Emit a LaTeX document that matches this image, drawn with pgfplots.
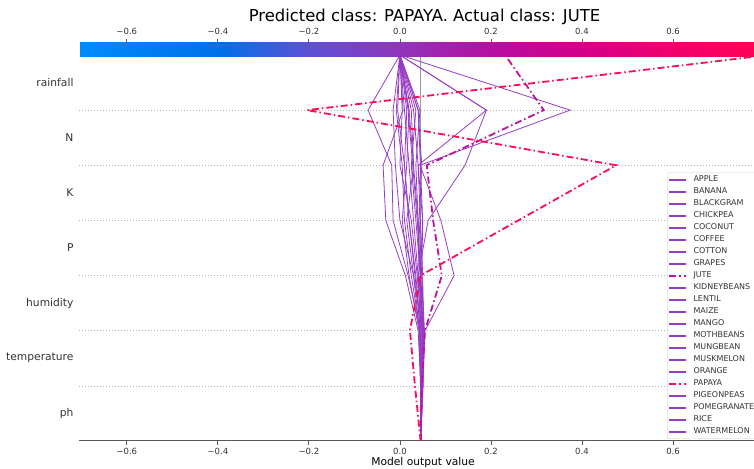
\documentclass[border=0pt]{standalone}
\usepackage{fontspec}
\setmainfont{DejaVu Sans}
\usepackage{pgfplots}
\usepackage{pgfplotstable}
\pgfplotsset{compat=1.18}
\definecolor{purp}{RGB}{150,60,195}
\definecolor{jute}{RGB}{192,16,158}
\definecolor{papaya}{RGB}{255,10,85}
\definecolor{txt}{RGB}{51,51,51}

\pgfplotstableread{
k APPLE BANANA BLACKGRAM CHICKPEA COCONUT COFFEE COTTON GRAPES JUTE KIDNEYBEANS LENTIL MAIZE MANGO MOTHBEANS MUNGBEAN MUSKMELON ORANGE PAPAYA PIGEONPEAS POMEGRANATE RICE WATERMELON
0 0.0455 0.0455 0.0455 0.0455 0.0455 0.0455 0.0455 0.0455 0.0455 0.0455 0.0455 0.0455 0.0455 0.0455 0.0455 0.0455 0.0455 0.0455 0.0455 0.0455 0.0455 0.0455
1 0.048 0.050 0.046 0.047 0.049 0.048 0.050 0.047 0.048 0.049 0.046 0.050 0.045 0.048 0.051 0.047 0.048 0.033 0.046 0.050 0.047 0.049
2 0.045 0.050 0.040 0.045 0.052 0.050 0.055 0.046 0.055 0.050 0.044 0.052 0.042 0.048 0.054 0.047 0.049 0.022 0.043 0.052 0.045 0.051
3 0.035 0.045 0.012 0.018 0.040 0.045 0.119 0.040 0.092 0.030 0.025 0.050 0.020 0.045 0.048 0.038 0.042 0.045 0.030 0.048 0.033 0.046
4 0.020 0.040 -0.031 -0.015 0.062 0.050 0.090 0.030 0.073 0.000 0.010 0.045 0.005 0.035 0.050 0.025 0.040 0.260 0.015 0.042 0.020 0.038
5 0.010 0.030 -0.037 -0.018 0.143 0.040 0.044 0.020 0.059 -0.010 0.005 0.040 0.015 0.025 0.045 0.000 0.035 0.475 0.030 0.048 0.010 0.028
6 -0.005 0.020 0.007 -0.070 0.190 0.190 0.374 0.010 0.316 -0.015 -0.008 0.030 0.020 0.035 0.040 0.005 0.044 -0.204 0.025 0.040 0.015 0.018
7 0.0 0.0 0.0 0.0 0.0 0.0 0.0 0.0 0.231 0.0 0.0 0.0 0.0 0.0 0.0 0.0 0.0 0.810 0.0 0.0 0.0 0.0
}\shapdata

\begin{document}
\begin{tikzpicture}
\begin{axis}[
  at={(79pt,27pt)}, anchor=south west,
  scale only axis, width=691pt, height=386pt,
  xmin=-0.705, xmax=0.813, ymin=0, ymax=7,
  axis x line*=bottom, axis y line*=left,
  y axis line style={draw=none},
  x axis line style={draw=black!65, line width=1pt},
  xtick={-0.6,-0.4,-0.2,0,0.2,0.4,0.6},
  xticklabels={−0.6,−0.4,−0.2,0.0,0.2,0.4,0.6},
  xtick style={draw=black!65, line width=0.8pt},
  tick align=outside, major tick length=4pt,
  xticklabel style={font=\fontsize{8.5}{10}\selectfont, text=txt},
  ytick={0.5,1.5,2.5,3.5,4.5,5.5,6.5},
  yticklabels={ph,temperature,humidity,P,K,N,rainfall},
  ytick style={draw=none},
  yticklabel style={font=\fontsize{10.7}{12}\selectfont, text=txt, xshift=2pt},
  extra y ticks={1,2,3,4,5,6},
  extra y tick labels={},
  extra y tick style={grid=major, major grid style={dash pattern=on 1pt off 2pt, draw=black!30, line width=0.5pt}, ytick style={draw=none}},
  colormap={shapcm}{rgb255(0pt)=(0,139,251) rgb255(31pt)=(0,112,232) rgb255(51pt)=(95,80,212) rgb255(71pt)=(145,52,186) rgb255(91pt)=(182,14,160) rgb255(111pt)=(212,0,138) rgb255(131pt)=(240,0,108) rgb255(152pt)=(255,0,82)},
  colorbar horizontal,
  point meta min=-0.705, point meta max=0.813,
  colorbar style={
    at={(parent axis.north west)}, anchor=south west, yshift=7pt,
    scale only axis, width=691pt, height=14pt,
    xtick={-0.6,-0.4,-0.2,0,0.2,0.4,0.6},
    xticklabels={−0.6,−0.4,−0.2,0.0,0.2,0.4,0.6},
    xtick pos=right, xticklabel pos=right,
    axis line style={draw=none},
    xtick style={draw=black!65, line width=0.8pt},
    tick align=outside, major tick length=4pt,
    xticklabel style={font=\fontsize{8.5}{10}\selectfont, text=txt},
  },
  legend cell align=left,
  legend image code/.code={\draw[#1] (0pt,0pt) -- (17pt,0pt); \path (21.5pt,0pt);},
  legend style={at={(0.8514,0.6961)}, anchor=north west, draw=black!20, rounded corners=2pt, fill=white,
    font=\fontsize{8}{9}\selectfont, text=txt, inner xsep=0.7pt, inner ysep=1.1pt, row sep=0pt,
    nodes={inner ysep=2pt, inner xsep=2pt, text height=5.8pt, text depth=2.2pt}},
]
\addplot[forget plot, color=black!40, line width=1.3pt] coordinates {(0.0455,0) (0.0455,7)};
\foreach \c in {APPLE,BANANA,BLACKGRAM,CHICKPEA,COCONUT,COFFEE,COTTON,GRAPES,KIDNEYBEANS,LENTIL,MAIZE,MANGO,MOTHBEANS,MUNGBEAN,MUSKMELON,ORANGE,PIGEONPEAS,POMEGRANATE,RICE,WATERMELON}{
  \addplot[forget plot, purp, line width=0.8pt] table[x=\c, y=k] {\shapdata};
}
\addplot[forget plot, jute, line width=1.8pt, dash pattern=on 7pt off 3pt on 1.5pt off 3pt] table[x=JUTE, y=k] {\shapdata};
\addplot[forget plot, papaya, line width=1.8pt, dash pattern=on 7pt off 3pt on 1.5pt off 3pt] table[x=PAPAYA, y=k] {\shapdata};
\foreach \c in {APPLE,BANANA,BLACKGRAM,CHICKPEA,COCONUT,COFFEE,COTTON,GRAPES}{
  \addlegendimage{purp, line width=1.8pt}
  \addlegendentryexpanded{\c}
}
\addlegendimage{jute, line width=1.8pt, dash pattern=on 7pt off 3pt on 1.5pt off 3pt}
\addlegendentry{JUTE}
\foreach \c in {KIDNEYBEANS,LENTIL,MAIZE,MANGO,MOTHBEANS,MUNGBEAN,MUSKMELON,ORANGE}{
  \addlegendimage{purp, line width=1.8pt}
  \addlegendentryexpanded{\c}
}
\addlegendimage{papaya, line width=1.8pt, dash pattern=on 7pt off 3pt on 1.5pt off 3pt}
\addlegendentry{PAPAYA}
\foreach \c in {PIGEONPEAS,POMEGRANATE,RICE,WATERMELON}{
  \addlegendimage{purp, line width=1.8pt}
  \addlegendentryexpanded{\c}
}
\end{axis}
\node[anchor=base, font=\fontsize{16.4}{19}\selectfont] at (424.5pt,446pt) {Predicted class: PAPAYA. Actual class: JUTE};
\node[anchor=base, font=\fontsize{10.7}{12}\selectfont, text=black] at (423pt,2.5pt) {Model output value};
\pgfresetboundingbox
\useasboundingbox (0pt,0pt) rectangle (754pt,468pt);
\end{tikzpicture}
\end{document}
